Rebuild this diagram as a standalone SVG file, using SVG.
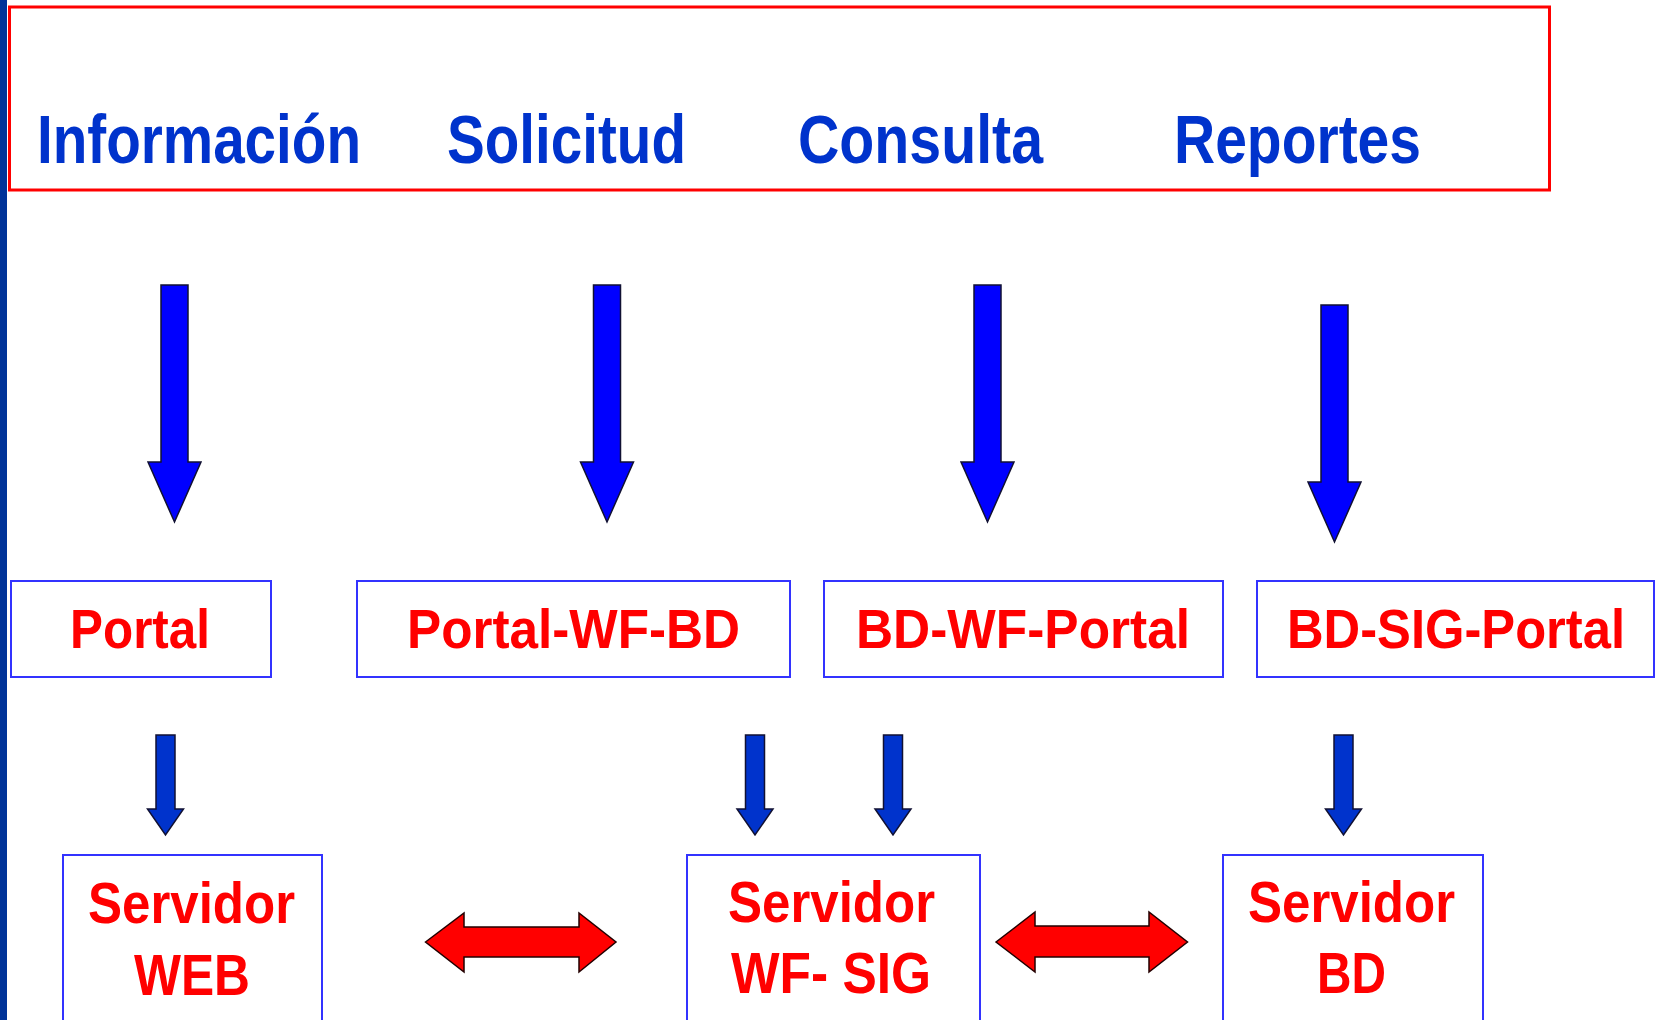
<svg xmlns="http://www.w3.org/2000/svg" width="1656" height="1020" viewBox="0 0 1656 1020">
<style>
.lbl{font-family:"Liberation Sans",Arial,sans-serif;font-weight:bold;}
.top{fill:#0033CC;font-size:68px;}
.mid{fill:#FF0000;font-size:56px;}
.bot{fill:#FF0000;font-size:57px;}
.box{fill:#FFFFFF;stroke:#3333FF;stroke-width:2;}
.barrow{fill:#0000FF;stroke:#111133;stroke-width:1.5;stroke-linejoin:miter;}
.sarrow{fill:#0033CC;stroke:#111133;stroke-width:1.5;}
.rarrow{fill:#FF0000;stroke:#220000;stroke-width:1.5;}
</style>
<rect x="0" y="0" width="1656" height="1020" fill="#FFFFFF"/>
<rect x="0" y="0" width="7" height="1020" fill="#003399"/>
<g id="top-box">
<rect x="9.5" y="7" width="1540" height="183" fill="none" stroke="#FF0000" stroke-width="3"/>
<text class="lbl top" x="37" y="163" textLength="324" lengthAdjust="spacingAndGlyphs">Información</text>
<text class="lbl top" x="447" y="163" textLength="239" lengthAdjust="spacingAndGlyphs">Solicitud</text>
<text class="lbl top" x="798" y="163" textLength="245" lengthAdjust="spacingAndGlyphs">Consulta</text>
<text class="lbl top" x="1174" y="163" textLength="247" lengthAdjust="spacingAndGlyphs">Reportes</text>
</g>
<g id="node-portal">
<rect class="box" x="11" y="581" width="260" height="96"/>
<text class="lbl mid" x="70" y="648" textLength="140" lengthAdjust="spacingAndGlyphs">Portal</text>
</g>
<g id="node-portal-wf-bd">
<rect class="box" x="357" y="581" width="433" height="96"/>
<text class="lbl mid" x="407" y="648" textLength="333" lengthAdjust="spacingAndGlyphs">Portal-WF-BD</text>
</g>
<g id="node-bd-wf-portal">
<rect class="box" x="824" y="581" width="399" height="96"/>
<text class="lbl mid" x="856" y="648" textLength="334" lengthAdjust="spacingAndGlyphs">BD-WF-Portal</text>
</g>
<g id="node-bd-sig-portal">
<rect class="box" x="1257" y="581" width="397" height="96"/>
<text class="lbl mid" x="1287" y="648" textLength="338" lengthAdjust="spacingAndGlyphs">BD-SIG-Portal</text>
</g>
<g id="node-servidor-web">
<rect class="box" x="63" y="855" width="259" height="175"/>
<text class="lbl bot" x="88" y="923" textLength="207" lengthAdjust="spacingAndGlyphs">Servidor</text>
<text class="lbl bot" x="134" y="995" textLength="116" lengthAdjust="spacingAndGlyphs">WEB</text>
</g>
<g id="node-servidor-wf-sig">
<rect class="box" x="687" y="855" width="293" height="175"/>
<text class="lbl bot" x="728" y="922" textLength="207" lengthAdjust="spacingAndGlyphs">Servidor</text>
<text class="lbl bot" x="731" y="993" textLength="200" lengthAdjust="spacingAndGlyphs">WF- SIG</text>
</g>
<g id="node-servidor-bd">
<rect class="box" x="1223" y="855" width="260" height="175"/>
<text class="lbl bot" x="1248" y="922" textLength="207" lengthAdjust="spacingAndGlyphs">Servidor</text>
<text class="lbl bot" x="1317" y="993" textLength="69" lengthAdjust="spacingAndGlyphs">BD</text>
</g>
<g id="connectors">
<polygon class="barrow" points="161,285 188,285 188,462 201,462 174.5,522 148,462 161,462"/>
<polygon class="barrow" points="593.5,285 620.5,285 620.5,462 633.5,462 607,522 580.5,462 593.5,462"/>
<polygon class="barrow" points="974,285 1001,285 1001,462 1014,462 987.5,522 961,462 974,462"/>
<polygon class="barrow" points="1321,305 1348,305 1348,482 1361,482 1334.5,542 1308,482 1321,482"/>
<polygon class="sarrow" points="156,735 175,735 175,809 183.5,809 165.5,835 147.5,809 156,809"/>
<polygon class="sarrow" points="745.5,735 764.5,735 764.5,809 773,809 755,835 737,809 745.5,809"/>
<polygon class="sarrow" points="883.5,735 902.5,735 902.5,809 911,809 893,835 875,809 883.5,809"/>
<polygon class="sarrow" points="1334,735 1353,735 1353,809 1361.5,809 1343.5,835 1325.5,809 1334,809"/>
<polygon class="rarrow" points="425.5,942 464,913 464,927 579,927 579,913 616,942 579,972 579,957 464,957 464,972"/>
<polygon class="rarrow" points="996,942 1035,912 1035,926 1149,926 1149,912 1187.5,942 1149,972 1149,957 1035,957 1035,972"/>
</g>
</svg>
